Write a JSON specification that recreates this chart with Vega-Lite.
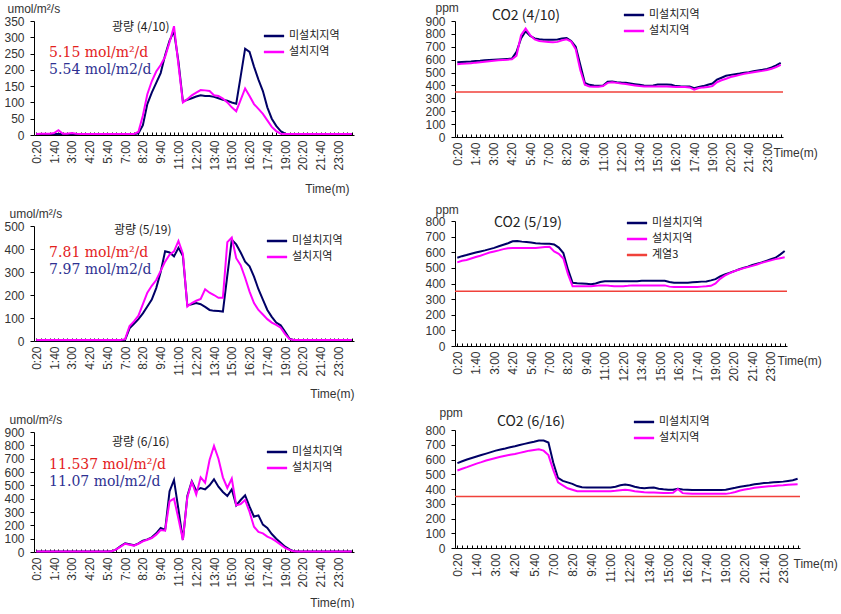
{
"$schema":"https://vega.github.io/schema/vega-lite/v6.json",
"padding":{"left":3,"top":1,"right":0,"bottom":0},
"background":"white",
"bounds":"full",
"spacing":66,
"resolve":{"scale":{"x":"independent","y":"independent","color":"independent"},"axis":{"x":"independent","y":"independent"},"legend":{"color":"independent"}},
"config":{
"view":{"stroke":null},
"font":"Noto Sans CJK KR",
"axis":{"grid":false,"domainColor":"#000","tickColor":"#000","labelFont":"Liberation Sans","labelFontSize":12,"labelColor":"#333","titleFont":"Liberation Sans","titleFontSize":12,"titleFontWeight":"normal","titleColor":"#333","labelOverlap":false},
"axisX":{"labelAngle":-90,"labelOverlap":false,"labelFlush":false,"labelPadding":8,"tickSize":-3,"titleBaseline":"middle"},
"axisY":{"titleAngle":0,"titleAlign":"left","titleBaseline":"middle","tickSize":4,"labelPadding":6,"labelOverlap":false,"tickCount":20},
"legend":{"orient":"none","symbolType":"M-1.35,0H1.35","symbolSize":225,"symbolStrokeWidth":2.5,"labelFont":"Noto Sans CJK KR","labelFontSize":11,"labelColor":"#222","rowPadding":2,"labelOffset":6,"padding":0},
"text":{"font":"Noto Sans CJK KR"}
},
"datasets":{
"L1":[{"m":20,"미설치지역":3,"설치지역":3},{"m":40,"미설치지역":3,"설치지역":4},{"m":60,"미설치지역":3,"설치지역":4},{"m":80,"미설치지역":3,"설치지역":4},{"m":100,"미설치지역":3,"설치지역":6},{"m":120,"미설치지역":3,"설치지역":15},{"m":140,"미설치지역":3,"설치지역":4},{"m":160,"미설치지역":3,"설치지역":4},{"m":180,"미설치지역":3,"설치지역":6},{"m":200,"미설치지역":3,"설치지역":4},{"m":220,"미설치지역":3,"설치지역":3},{"m":240,"미설치지역":3,"설치지역":3},{"m":260,"미설치지역":3,"설치지역":3},{"m":280,"미설치지역":3,"설치지역":3},{"m":300,"미설치지역":3,"설치지역":3},{"m":320,"미설치지역":3,"설치지역":3},{"m":340,"미설치지역":3,"설치지역":3},{"m":360,"미설치지역":3,"설치지역":3},{"m":380,"미설치지역":3,"설치지역":3},{"m":400,"미설치지역":3,"설치지역":3},{"m":420,"미설치지역":3,"설치지역":3},{"m":440,"미설치지역":3,"설치지역":3},{"m":460,"미설치지역":3,"설치지역":3},{"m":480,"미설치지역":5,"설치지역":10},{"m":500,"미설치지역":30,"설치지역":60},{"m":520,"미설치지역":95,"설치지역":125},{"m":540,"미설치지역":130,"설치지역":165},{"m":560,"미설치지역":160,"설치지역":195},{"m":580,"미설치지역":190,"설치지역":215},{"m":600,"미설치지역":245,"설치지역":240},{"m":620,"미설치지역":290,"설치지역":285},{"m":640,"미설치지역":318,"설치지역":334},{"m":660,"미설치지역":225,"설치지역":215},{"m":680,"미설치지역":103,"설치지역":100},{"m":700,"미설치지역":108,"설치지역":110},{"m":720,"미설치지역":113,"설치지역":122},{"m":740,"미설치지역":118,"설치지역":130},{"m":760,"미설치지역":122,"설치지역":138},{"m":780,"미설치지역":120,"설치지역":137},{"m":800,"미설치지역":120,"설치지역":135},{"m":820,"미설치지역":117,"설치지역":122},{"m":840,"미설치지역":113,"설치지역":120},{"m":860,"미설치지역":108,"설치지역":112},{"m":880,"미설치지역":105,"설치지역":100},{"m":900,"미설치지역":100,"설치지역":85},{"m":920,"미설치지역":96,"설치지역":73},{"m":940,"미설치지역":180,"설치지역":108},{"m":960,"미설치지역":265,"설치지역":143},{"m":980,"미설치지역":255,"설치지역":120},{"m":1000,"미설치지역":210,"설치지역":95},{"m":1020,"미설치지역":170,"설치지역":80},{"m":1040,"미설치지역":135,"설치지역":65},{"m":1060,"미설치지역":85,"설치지역":45},{"m":1080,"미설치지역":50,"설치지역":25},{"m":1100,"미설치지역":28,"설치지역":12},{"m":1120,"미설치지역":12,"설치지역":4},{"m":1140,"미설치지역":4,"설치지역":3},{"m":1160,"미설치지역":3,"설치지역":3},{"m":1180,"미설치지역":3,"설치지역":3},{"m":1200,"미설치지역":3,"설치지역":3},{"m":1220,"미설치지역":3,"설치지역":3},{"m":1240,"미설치지역":3,"설치지역":3},{"m":1260,"미설치지역":3,"설치지역":3},{"m":1280,"미설치지역":3,"설치지역":3},{"m":1300,"미설치지역":3,"설치지역":3},{"m":1320,"미설치지역":3,"설치지역":3},{"m":1340,"미설치지역":3,"설치지역":3},{"m":1360,"미설치지역":3,"설치지역":3},{"m":1380,"미설치지역":3,"설치지역":3},{"m":1400,"미설치지역":3,"설치지역":3},{"m":1420,"미설치지역":3,"설치지역":3},{"m":1440,"미설치지역":3,"설치지역":3}],
"L2":[{"m":20,"미설치지역":3,"설치지역":4},{"m":40,"미설치지역":3,"설치지역":4},{"m":60,"미설치지역":3,"설치지역":4},{"m":80,"미설치지역":3,"설치지역":4},{"m":100,"미설치지역":3,"설치지역":4},{"m":120,"미설치지역":3,"설치지역":4},{"m":140,"미설치지역":3,"설치지역":4},{"m":160,"미설치지역":3,"설치지역":4},{"m":180,"미설치지역":3,"설치지역":4},{"m":200,"미설치지역":3,"설치지역":4},{"m":220,"미설치지역":3,"설치지역":4},{"m":240,"미설치지역":3,"설치지역":4},{"m":260,"미설치지역":3,"설치지역":4},{"m":280,"미설치지역":3,"설치지역":4},{"m":300,"미설치지역":3,"설치지역":4},{"m":320,"미설치지역":3,"설치지역":4},{"m":340,"미설치지역":3,"설치지역":4},{"m":360,"미설치지역":3,"설치지역":4},{"m":380,"미설치지역":3,"설치지역":4},{"m":400,"미설치지역":3,"설치지역":4},{"m":420,"미설치지역":5,"설치지역":8},{"m":440,"미설치지역":55,"설치지역":65},{"m":460,"미설치지역":75,"설치지역":85},{"m":480,"미설치지역":95,"설치지역":110},{"m":500,"미설치지역":120,"설치지역":160},{"m":520,"미설치지역":150,"설치지역":210},{"m":540,"미설치지역":180,"설치지역":240},{"m":560,"미설치지역":230,"설치지역":265},{"m":580,"미설치지역":300,"설치지역":305},{"m":600,"미설치지역":390,"설치지역":345},{"m":620,"미설치지역":385,"설치지역":375},{"m":640,"미설치지역":368,"설치지역":390},{"m":660,"미설치지역":405,"설치지역":435},{"m":680,"미설치지역":370,"설치지역":380},{"m":700,"미설치지역":155,"설치지역":150},{"m":720,"미설치지역":160,"설치지역":165},{"m":740,"미설치지역":165,"설치지역":175},{"m":760,"미설치지역":160,"설치지역":183},{"m":780,"미설치지역":148,"설치지역":225},{"m":800,"미설치지역":135,"설치지역":210},{"m":820,"미설치지역":131,"설치지역":200},{"m":840,"미설치지역":130,"설치지역":188},{"m":860,"미설치지역":128,"설치지역":188},{"m":880,"미설치지역":285,"설치지역":430},{"m":900,"미설치지역":440,"설치지역":450},{"m":920,"미설치지역":420,"설치지역":360},{"m":940,"미설치지역":385,"설치지역":330},{"m":960,"미설치지역":345,"설치지역":275},{"m":980,"미설치지역":325,"설치지역":215},{"m":1000,"미설치지역":280,"설치지역":165},{"m":1020,"미설치지역":225,"설치지역":135},{"m":1040,"미설치지역":180,"설치지역":115},{"m":1060,"미설치지역":135,"설치지역":95},{"m":1080,"미설치지역":105,"설치지역":80},{"m":1100,"미설치지역":80,"설치지역":70},{"m":1120,"미설치지역":68,"설치지역":58},{"m":1140,"미설치지역":40,"설치지역":30},{"m":1160,"미설치지역":10,"설치지역":8},{"m":1180,"미설치지역":3,"설치지역":4},{"m":1200,"미설치지역":3,"설치지역":4},{"m":1220,"미설치지역":3,"설치지역":4},{"m":1240,"미설치지역":3,"설치지역":4},{"m":1260,"미설치지역":3,"설치지역":4},{"m":1280,"미설치지역":3,"설치지역":4},{"m":1300,"미설치지역":3,"설치지역":4},{"m":1320,"미설치지역":3,"설치지역":4},{"m":1340,"미설치지역":3,"설치지역":4},{"m":1360,"미설치지역":3,"설치지역":4},{"m":1380,"미설치지역":3,"설치지역":4},{"m":1400,"미설치지역":3,"설치지역":4},{"m":1420,"미설치지역":3,"설치지역":4},{"m":1440,"미설치지역":3,"설치지역":4}],
"L3":[{"m":20,"미설치지역":4,"설치지역":4},{"m":40,"미설치지역":4,"설치지역":4},{"m":60,"미설치지역":4,"설치지역":4},{"m":80,"미설치지역":4,"설치지역":4},{"m":100,"미설치지역":4,"설치지역":4},{"m":120,"미설치지역":4,"설치지역":4},{"m":140,"미설치지역":4,"설치지역":4},{"m":160,"미설치지역":4,"설치지역":4},{"m":180,"미설치지역":4,"설치지역":4},{"m":200,"미설치지역":4,"설치지역":4},{"m":220,"미설치지역":4,"설치지역":4},{"m":240,"미설치지역":4,"설치지역":4},{"m":260,"미설치지역":4,"설치지역":4},{"m":280,"미설치지역":4,"설치지역":4},{"m":300,"미설치지역":4,"설치지역":4},{"m":320,"미설치지역":4,"설치지역":4},{"m":340,"미설치지역":4,"설치지역":4},{"m":360,"미설치지역":5,"설치지역":5},{"m":380,"미설치지역":20,"설치지역":20},{"m":400,"미설치지역":45,"설치지역":40},{"m":420,"미설치지역":65,"설치지역":62},{"m":440,"미설치지역":58,"설치지역":55},{"m":460,"미설치지역":50,"설치지역":48},{"m":480,"미설치지역":65,"설치지역":62},{"m":500,"미설치지역":85,"설치지역":80},{"m":520,"미설치지역":95,"설치지역":92},{"m":540,"미설치지역":110,"설치지역":105},{"m":560,"미설치지역":140,"설치지역":130},{"m":580,"미설치지역":180,"설치지역":165},{"m":600,"미설치지역":165,"설치지역":160},{"m":620,"미설치지역":455,"설치지역":380},{"m":640,"미설치지역":540,"설치지역":400},{"m":660,"미설치지역":320,"설치지역":250},{"m":680,"미설치지역":90,"설치지역":90},{"m":700,"미설치지역":420,"설치지역":410},{"m":720,"미설치지역":530,"설치지역":525},{"m":740,"미설치지역":460,"설치지역":430},{"m":760,"미설치지역":480,"설치지역":560},{"m":780,"미설치지역":470,"설치지역":520},{"m":800,"미설치지역":500,"설치지역":690},{"m":820,"미설치지역":545,"설치지역":795},{"m":840,"미설치지역":490,"설치지역":700},{"m":860,"미설치지역":450,"설치지역":560},{"m":880,"미설치지역":420,"설치지역":480},{"m":900,"미설치지역":470,"설치지역":550},{"m":920,"미설치지역":350,"설치지역":350},{"m":940,"미설치지역":390,"설치지역":360},{"m":960,"미설치지역":425,"설치지역":390},{"m":980,"미설치지역":340,"설치지역":300},{"m":1000,"미설치지역":265,"설치지역":190},{"m":1020,"미설치지역":275,"설치지역":150},{"m":1040,"미설치지역":205,"설치지역":140},{"m":1060,"미설치지역":180,"설치지역":115},{"m":1080,"미설치지역":135,"설치지역":100},{"m":1100,"미설치지역":100,"설치지역":80},{"m":1120,"미설치지역":70,"설치지역":55},{"m":1140,"미설치지역":40,"설치지역":30},{"m":1160,"미설치지역":20,"설치지역":15},{"m":1180,"미설치지역":5,"설치지역":5},{"m":1200,"미설치지역":4,"설치지역":4},{"m":1220,"미설치지역":4,"설치지역":4},{"m":1240,"미설치지역":4,"설치지역":4},{"m":1260,"미설치지역":4,"설치지역":4},{"m":1280,"미설치지역":4,"설치지역":4},{"m":1300,"미설치지역":4,"설치지역":4},{"m":1320,"미설치지역":4,"설치지역":4},{"m":1340,"미설치지역":4,"설치지역":4},{"m":1360,"미설치지역":4,"설치지역":4},{"m":1380,"미설치지역":4,"설치지역":4},{"m":1400,"미설치지역":4,"설치지역":4},{"m":1420,"미설치지역":4,"설치지역":4},{"m":1440,"미설치지역":4,"설치지역":4}],
"C1":[{"m":20,"미설치지역":580,"설치지역":565},{"m":40,"미설치지역":582,"설치지역":568},{"m":60,"미설치지역":584,"설치지역":570},{"m":80,"미설치지역":586,"설치지역":573},{"m":100,"미설치지역":590,"설치지역":577},{"m":120,"미설치지역":592,"설치지역":580},{"m":140,"미설치지역":595,"설치지역":584},{"m":160,"미설치지역":598,"설치지역":588},{"m":180,"미설치지역":600,"설치지역":592},{"m":200,"미설치지역":602,"설치지역":595},{"m":220,"미설치지역":604,"설치지역":598},{"m":240,"미설치지역":606,"설치지역":600},{"m":260,"미설치지역":608,"설치지역":603},{"m":280,"미설치지역":660,"설치지역":630},{"m":300,"미설치지역":765,"설치지역":790},{"m":320,"미설치지역":820,"설치지역":842},{"m":340,"미설치지역":785,"설치지역":790},{"m":360,"미설치지역":765,"설치지역":757},{"m":380,"미설치지역":758,"설치지역":745},{"m":400,"미설치지역":755,"설치지역":740},{"m":420,"미설치지역":755,"설치지역":738},{"m":440,"미설치지역":755,"설치지역":735},{"m":460,"미설치지역":757,"설치지역":738},{"m":480,"미설치지역":765,"설치지역":750},{"m":500,"미설치지역":768,"설치지역":758},{"m":520,"미설치지역":745,"설치지역":740},{"m":540,"미설치지역":700,"설치지역":680},{"m":560,"미설치지역":560,"설치지역":520},{"m":580,"미설치지역":420,"설치지역":405},{"m":600,"미설치지역":405,"설치지역":392},{"m":620,"미설치지역":400,"설치지역":390},{"m":640,"미설치지역":397,"설치지역":390},{"m":660,"미설치지역":400,"설치지역":395},{"m":680,"미설치지역":428,"설치지역":420},{"m":700,"미설치지역":430,"설치지역":425},{"m":720,"미설치지역":425,"설치지역":420},{"m":740,"미설치지역":422,"설치지역":415},{"m":760,"미설치지역":420,"설치지역":412},{"m":780,"미설치지역":415,"설치지역":405},{"m":800,"미설치지역":410,"설치지역":400},{"m":820,"미설치지역":405,"설치지역":395},{"m":840,"미설치지역":400,"설치지역":392},{"m":860,"미설치지역":398,"설치지역":392},{"m":880,"미설치지역":400,"설치지역":392},{"m":900,"미설치지역":408,"설치지역":392},{"m":920,"미설치지역":408,"설치지역":392},{"m":940,"미설치지역":408,"설치지역":392},{"m":960,"미설치지역":405,"설치지역":390},{"m":980,"미설치지역":395,"설치지역":388},{"m":1000,"미설치지역":393,"설치지역":387},{"m":1020,"미설치지역":392,"설치지역":387},{"m":1040,"미설치지역":392,"설치지역":385},{"m":1060,"미설치지역":378,"설치지역":368},{"m":1080,"미설치지역":388,"설치지역":380},{"m":1100,"미설치지역":395,"설치지역":385},{"m":1120,"미설치지역":405,"설치지역":387},{"m":1140,"미설치지역":415,"설치지역":395},{"m":1160,"미설치지역":445,"설치지역":425},{"m":1180,"미설치지역":460,"설치지역":440},{"m":1200,"미설치지역":475,"설치지역":452},{"m":1220,"미설치지역":482,"설치지역":465},{"m":1240,"미설치지역":487,"설치지역":474},{"m":1260,"미설치지역":492,"설치지역":482},{"m":1280,"미설치지역":498,"설치지역":490},{"m":1300,"미설치지역":503,"설치지역":496},{"m":1320,"미설치지역":510,"설치지역":502},{"m":1340,"미설치지역":517,"설치지역":508},{"m":1360,"미설치지역":522,"설치지역":513},{"m":1380,"미설치지역":528,"설치지역":520},{"m":1400,"미설치지역":540,"설치지역":530},{"m":1420,"미설치지역":555,"설치지역":542},{"m":1440,"미설치지역":575,"설치지역":560}],
"C2":[{"m":20,"미설치지역":565,"설치지역":535},{"m":40,"미설치지역":575,"설치지역":545},{"m":60,"미설치지역":582,"설치지역":550},{"m":80,"미설치지역":590,"설치지역":560},{"m":100,"미설치지역":598,"설치지역":570},{"m":120,"미설치지역":605,"설치지역":578},{"m":140,"미설치지역":612,"설치지역":588},{"m":160,"미설치지역":620,"설치지역":598},{"m":180,"미설치지역":628,"설치지역":605},{"m":200,"미설치지역":638,"설치지역":612},{"m":220,"미설치지역":648,"설치지역":620},{"m":240,"미설치지역":658,"설치지역":625},{"m":260,"미설치지역":670,"설치지역":627},{"m":280,"미설치지역":672,"설치지역":627},{"m":300,"미설치지역":668,"설치지역":627},{"m":320,"미설치지역":665,"설치지역":627},{"m":340,"미설치지역":662,"설치지역":627},{"m":360,"미설치지역":658,"설치지역":627},{"m":380,"미설치지역":656,"설치지역":630},{"m":400,"미설치지역":655,"설치지역":633},{"m":420,"미설치지역":655,"설치지역":635},{"m":440,"미설치지역":650,"설치지역":605},{"m":460,"미설치지역":630,"설치지역":590},{"m":480,"미설치지역":595,"설치지역":560},{"m":500,"미설치지역":490,"설치지역":460},{"m":520,"미설치지역":405,"설치지역":382},{"m":540,"미설치지역":402,"설치지역":382},{"m":560,"미설치지역":400,"설치지역":382},{"m":580,"미설치지역":398,"설치지역":382},{"m":600,"미설치지역":395,"설치지역":382},{"m":620,"미설치지역":400,"설치지역":385},{"m":640,"미설치지역":410,"설치지역":388},{"m":660,"미설치지역":415,"설치지역":388},{"m":680,"미설치지역":415,"설치지역":385},{"m":700,"미설치지역":415,"설치지역":383},{"m":720,"미설치지역":415,"설치지역":383},{"m":740,"미설치지역":415,"설치지역":383},{"m":760,"미설치지역":415,"설치지역":385},{"m":780,"미설치지역":415,"설치지역":388},{"m":800,"미설치지역":415,"설치지역":388},{"m":820,"미설치지역":418,"설치지역":388},{"m":840,"미설치지역":418,"설치지역":388},{"m":860,"미설치지역":418,"설치지역":388},{"m":880,"미설치지역":418,"설치지역":388},{"m":900,"미설치지역":418,"설치지역":388},{"m":920,"미설치지역":418,"설치지역":388},{"m":940,"미설치지역":410,"설치지역":380},{"m":960,"미설치지역":405,"설치지역":378},{"m":980,"미설치지역":405,"설치지역":378},{"m":1000,"미설치지역":405,"설치지역":378},{"m":1020,"미설치지역":405,"설치지역":378},{"m":1040,"미설치지역":408,"설치지역":378},{"m":1060,"미설치지역":410,"설치지역":378},{"m":1080,"미설치지역":412,"설치지역":380},{"m":1100,"미설치지역":413,"설치지역":382},{"m":1120,"미설치지역":420,"설치지역":385},{"m":1140,"미설치지역":428,"설치지역":400},{"m":1160,"미설치지역":445,"설치지역":430},{"m":1180,"미설치지역":458,"설치지역":450},{"m":1200,"미설치지역":468,"설치지역":465},{"m":1220,"미설치지역":478,"설치지역":478},{"m":1240,"미설치지역":490,"설치지역":488},{"m":1260,"미설치지역":500,"설치지역":497},{"m":1280,"미설치지역":508,"설치지역":505},{"m":1300,"미설치지역":518,"설치지역":513},{"m":1320,"미설치지역":527,"설치지역":522},{"m":1340,"미설치지역":535,"설치지역":532},{"m":1360,"미설치지역":545,"설치지역":540},{"m":1380,"미설치지역":555,"설치지역":548},{"m":1400,"미설치지역":565,"설치지역":556},{"m":1420,"미설치지역":585,"설치지역":562},{"m":1440,"미설치지역":608,"설치지역":568}],
"C3":[{"m":20,"미설치지역":575,"설치지역":525},{"m":40,"미설치지역":588,"설치지역":537},{"m":60,"미설치지역":600,"설치지역":548},{"m":80,"미설치지역":610,"설치지역":560},{"m":100,"미설치지역":620,"설치지역":572},{"m":120,"미설치지역":630,"설치지역":582},{"m":140,"미설치지역":640,"설치지역":593},{"m":160,"미설치지역":650,"설치지역":602},{"m":180,"미설치지역":660,"설치지역":610},{"m":200,"미설치지역":668,"설치지역":618},{"m":220,"미설치지역":675,"설치지역":625},{"m":240,"미설치지역":683,"설치지역":632},{"m":260,"미설치지역":690,"설치지역":637},{"m":280,"미설치지역":698,"설치지역":645},{"m":300,"미설치지역":706,"설치지역":652},{"m":320,"미설치지역":714,"설치지역":660},{"m":340,"미설치지역":720,"설치지역":665},{"m":360,"미설치지역":728,"설치지역":670},{"m":380,"미설치지역":728,"설치지역":660},{"m":400,"미설치지역":715,"설치지역":630},{"m":420,"미설치지역":580,"설치지역":530},{"m":440,"미설치지역":475,"설치지역":445},{"m":460,"미설치지역":455,"설치지역":425},{"m":480,"미설치지역":445,"설치지역":405},{"m":500,"미설치지역":435,"설치지역":395},{"m":520,"미설치지역":420,"설치지역":385},{"m":540,"미설치지역":412,"설치지역":385},{"m":560,"미설치지역":410,"설치지역":385},{"m":580,"미설치지역":410,"설치지역":385},{"m":600,"미설치지역":410,"설치지역":385},{"m":620,"미설치지역":410,"설치지역":385},{"m":640,"미설치지역":410,"설치지역":385},{"m":660,"미설치지역":410,"설치지역":385},{"m":680,"미설치지역":415,"설치지역":388},{"m":700,"미설치지역":425,"설치지역":392},{"m":720,"미설치지역":430,"설치지역":395},{"m":740,"미설치지역":425,"설치지역":392},{"m":760,"미설치지역":415,"설치지역":385},{"m":780,"미설치지역":408,"설치지역":382},{"m":800,"미설치지역":405,"설치지역":378},{"m":820,"미설치지역":408,"설치지역":377},{"m":840,"미설치지역":410,"설치지역":377},{"m":860,"미설치지역":402,"설치지역":375},{"m":880,"미설치지역":398,"설치지역":373},{"m":900,"미설치지역":395,"설치지역":373},{"m":920,"미설치지역":395,"설치지역":375},{"m":940,"미설치지역":402,"설치지역":400},{"m":960,"미설치지역":397,"설치지역":372},{"m":980,"미설치지역":395,"설치지역":370},{"m":1000,"미설치지역":393,"설치지역":367},{"m":1020,"미설치지역":393,"설치지역":367},{"m":1040,"미설치지역":393,"설치지역":367},{"m":1060,"미설치지역":393,"설치지역":367},{"m":1080,"미설치지역":393,"설치지역":367},{"m":1100,"미설치지역":393,"설치지역":367},{"m":1120,"미설치지역":393,"설치지역":367},{"m":1140,"미설치지역":395,"설치지역":367},{"m":1160,"미설치지역":402,"설치지역":372},{"m":1180,"미설치지역":408,"설치지역":380},{"m":1200,"미설치지역":415,"설치지역":390},{"m":1220,"미설치지역":420,"설치지역":397},{"m":1240,"미설치지역":425,"설치지역":402},{"m":1260,"미설치지역":432,"설치지역":408},{"m":1280,"미설치지역":436,"설치지역":412},{"m":1300,"미설치지역":440,"설치지역":415},{"m":1320,"미설치지역":442,"설치지역":418},{"m":1340,"미설치지역":445,"설치지역":420},{"m":1360,"미설치지역":448,"설치지역":423},{"m":1380,"미설치지역":450,"설치지역":425},{"m":1400,"미설치지역":455,"설치지역":428},{"m":1420,"미설치지역":460,"설치지역":430},{"m":1440,"미설치지역":470,"설치지역":432}]
},
"hconcat":[
{"vconcat":[
{"width":320,"height":114,"data":{"name":"L1"},"layer":[
{"transform":[{"fold":["미설치지역","설치지역"],"as":["s","v"]}],"mark":{"type":"line","strokeWidth":2},
"encoding":{
"x":{"field":"m","type":"quantitative","scale":{"domain":[10,1450],"nice":false,"zero":false},"axis":{"title":"Time(m)","titleX":315,"titleY":53,"titleAlign":"right","tickCount":72,"labelExpr":"datum.value % 80 == 20 ? floor(datum.value / 60) + ':' + (datum.value % 60 == 0 ? '00' : datum.value % 60) : ''"}},
"y":{"field":"v","type":"quantitative","scale":{"domain":[0,350],"nice":false},"axis":{"title":"umol/m²/s","values":[0,50,100,150,200,250,300,350],"tickCount":20,"titleX":-27,"titleY":-13}},
"color":{"field":"s","type":"nominal","scale":{"domain":["미설치지역","설치지역"],"range":["#000066","#FF00FF"]},"legend":{"title":null,"legendX":231,"legendY":6}}}},
{"data":{"values":[{}]},"mark":{"type":"text","align":"left","baseline":"middle","fontSize":12,"color":"#222","text":"광량 (4/10)"},"encoding":{"x":{"datum":361},"y":{"datum":331}}},
{"data":{"values":[{}]},"mark":{"type":"text","align":"left","baseline":"middle","font":"DejaVu Serif","fontSize":14,"color":"#E3211C","text":"5.15 mol/m²/d"},"encoding":{"x":{"datum":78},"y":{"datum":252}}},
{"data":{"values":[{}]},"mark":{"type":"text","align":"left","baseline":"middle","font":"DejaVu Serif","fontSize":14,"color":"#2E3192","text":"5.54 mol/m2/d"},"encoding":{"x":{"datum":78},"y":{"datum":200}}}
]},
{"width":320,"height":115,"data":{"name":"L2"},"layer":[
{"transform":[{"fold":["미설치지역","설치지역"],"as":["s","v"]}],"mark":{"type":"line","strokeWidth":2},
"encoding":{
"x":{"field":"m","type":"quantitative","scale":{"domain":[10,1450],"nice":false,"zero":false},"axis":{"title":"Time(m)","titleX":320,"titleY":52,"titleAlign":"right","tickCount":72,"labelExpr":"datum.value % 80 == 20 ? floor(datum.value / 60) + ':' + (datum.value % 60 == 0 ? '00' : datum.value % 60) : ''"}},
"y":{"field":"v","type":"quantitative","scale":{"domain":[0,500],"nice":false},"axis":{"title":"umol/m²/s","values":[0,100,200,300,400,500],"tickCount":20,"titleX":-25,"titleY":-13}},
"color":{"field":"s","type":"nominal","scale":{"domain":["미설치지역","설치지역"],"range":["#000066","#FF00FF"]},"legend":{"title":null,"legendX":234,"legendY":6}}}},
{"data":{"values":[{}]},"mark":{"type":"text","align":"left","baseline":"middle","fontSize":12,"color":"#222","text":"광량 (5/19)"},"encoding":{"x":{"datum":370},"y":{"datum":483}}},
{"data":{"values":[{}]},"mark":{"type":"text","align":"left","baseline":"middle","font":"DejaVu Serif","fontSize":14,"color":"#E3211C","text":"7.81 mol/m²/d"},"encoding":{"x":{"datum":78},"y":{"datum":381}}},
{"data":{"values":[{}]},"mark":{"type":"text","align":"left","baseline":"middle","font":"DejaVu Serif","fontSize":14,"color":"#2E3192","text":"7.97 mol/m2/d"},"encoding":{"x":{"datum":78},"y":{"datum":309}}}
]},
{"width":320,"height":120,"data":{"name":"L3"},"layer":[
{"transform":[{"fold":["미설치지역","설치지역"],"as":["s","v"]}],"mark":{"type":"line","strokeWidth":2},
"encoding":{
"x":{"field":"m","type":"quantitative","scale":{"domain":[10,1450],"nice":false,"zero":false},"axis":{"title":"Time(m)","titleX":320,"titleY":50,"titleAlign":"right","tickCount":72,"labelExpr":"datum.value % 80 == 20 ? floor(datum.value / 60) + ':' + (datum.value % 60 == 0 ? '00' : datum.value % 60) : ''"}},
"y":{"field":"v","type":"quantitative","scale":{"domain":[0,900],"nice":false},"axis":{"title":"umol/m²/s","values":[0,100,200,300,400,500,600,700,800,900],"tickCount":20,"titleX":-25,"titleY":-13}},
"color":{"field":"s","type":"nominal","scale":{"domain":["미설치지역","설치지역"],"range":["#000066","#FF00FF"]},"legend":{"title":null,"legendX":234,"legendY":11}}}},
{"data":{"values":[{}]},"mark":{"type":"text","align":"left","baseline":"middle","fontSize":12,"color":"#222","text":"광량 (6/16)"},"encoding":{"x":{"datum":361},"y":{"datum":827}}},
{"data":{"values":[{}]},"mark":{"type":"text","align":"left","baseline":"middle","font":"DejaVu Serif","fontSize":14,"color":"#E3211C","text":"11.537 mol/m²/d"},"encoding":{"x":{"datum":78},"y":{"datum":652}}},
{"data":{"values":[{}]},"mark":{"type":"text","align":"left","baseline":"middle","font":"DejaVu Serif","fontSize":14,"color":"#2E3192","text":"11.07 mol/m2/d"},"encoding":{"x":{"datum":78},"y":{"datum":527}}}
]}
],"spacing":91,"bounds":"flush","resolve":{"scale":{"x":"independent","y":"independent","color":"independent"},"axis":{"x":"independent","y":"independent"},"legend":{"color":"independent"}}},
{"vconcat":[
{"width":328,"height":116,"data":{"name":"C1"},"layer":[
{"data":{"values":[{}]},"mark":{"type":"rule","strokeWidth":1.5,"color":"#F0413A"},"encoding":{"y":{"datum":350}}},
{"transform":[{"fold":["미설치지역","설치지역"],"as":["s","v"]}],"mark":{"type":"line","strokeWidth":2},
"encoding":{
"x":{"field":"m","type":"quantitative","scale":{"domain":[10,1450],"nice":false,"zero":false},"axis":{"title":"Time(m)","titleX":318,"titleY":15,"titleAlign":"left","tickCount":72,"labelExpr":"datum.value % 80 == 20 ? floor(datum.value / 60) + ':' + (datum.value % 60 == 0 ? '00' : datum.value % 60) : ''"}},
"y":{"field":"v","type":"quantitative","scale":{"domain":[0,900],"nice":false},"axis":{"title":"ppm","values":[0,100,200,300,400,500,600,700,800,900],"tickCount":20,"titleX":-20,"titleY":-14}},
"color":{"field":"s","type":"nominal","scale":{"domain":["미설치지역","설치지역"],"range":["#000066","#FF00FF"]},"legend":{"title":null,"legendX":170,"legendY":-15}}}},
{"data":{"values":[{}]},"mark":{"type":"text","align":"left","baseline":"middle","fontSize":14,"color":"#222","text":"CO2 (4/10)"},"encoding":{"x":{"datum":172},"y":{"datum":939}}}
]},
{"width":332,"height":125,"data":{"name":"C2"},"layer":[
{"transform":[{"fold":["미설치지역","설치지역"],"as":["s","v"]}],"mark":{"type":"line","strokeWidth":2},
"encoding":{
"x":{"field":"m","type":"quantitative","scale":{"domain":[10,1450],"nice":false,"zero":false},"axis":{"title":"Time(m)","titleX":322,"titleY":14,"titleAlign":"left","tickCount":72,"labelExpr":"datum.value % 80 == 20 ? floor(datum.value / 60) + ':' + (datum.value % 60 == 0 ? '00' : datum.value % 60) : ''"}},
"y":{"field":"v","type":"quantitative","scale":{"domain":[0,800],"nice":false},"axis":{"title":"ppm","values":[0,100,200,300,400,500,600,700,800],"tickCount":20,"titleX":-20,"titleY":-12}},
"color":{"field":"s","type":"nominal","scale":{"domain":["미설치지역","설치지역","계열3"],"range":["#000066","#FF00FF","#F0413A"]},"legend":{"title":null,"legendX":173,"legendY":-7}}}},
{"data":{"values":[{}]},"mark":{"type":"rule","strokeWidth":1.5},"encoding":{"y":{"datum":350},"color":{"datum":"계열3"}}},
{"data":{"values":[{}]},"mark":{"type":"text","align":"left","baseline":"middle","fontSize":14,"color":"#222","text":"CO2 (5/19)"},"encoding":{"x":{"datum":179},"y":{"datum":787}}}
]},
{"width":345,"height":118,"data":{"name":"C3"},"layer":[
{"data":{"values":[{}]},"mark":{"type":"rule","strokeWidth":1.5,"color":"#F0413A"},"encoding":{"y":{"datum":350}}},
{"transform":[{"fold":["미설치지역","설치지역"],"as":["s","v"]}],"mark":{"type":"line","strokeWidth":2},
"encoding":{
"x":{"field":"m","type":"quantitative","scale":{"domain":[10,1450],"nice":false,"zero":false},"axis":{"title":"Time(m)","titleX":338,"titleY":15,"titleAlign":"left","tickCount":72,"labelExpr":"datum.value % 80 == 20 ? floor(datum.value / 60) + ':' + (datum.value % 60 == 0 ? '00' : datum.value % 60) : ''"}},
"y":{"field":"v","type":"quantitative","scale":{"domain":[0,800],"nice":false},"axis":{"title":"ppm","values":[0,100,200,300,400,500,600,700,800],"tickCount":20,"titleX":-16,"titleY":-18}},
"color":{"field":"s","type":"nominal","scale":{"domain":["미설치지역","설치지역"],"range":["#000066","#FF00FF"]},"legend":{"title":null,"legendX":180,"legendY":-17}}}},
{"data":{"values":[{}]},"mark":{"type":"text","align":"left","baseline":"middle","fontSize":14,"color":"#222","text":"CO2 (6/16)"},"encoding":{"x":{"datum":185},"y":{"datum":854}}}
]}
],"spacing":84,"bounds":"flush","resolve":{"scale":{"x":"independent","y":"independent","color":"independent"},"axis":{"x":"independent","y":"independent"},"legend":{"color":"independent"}}}
]
}
